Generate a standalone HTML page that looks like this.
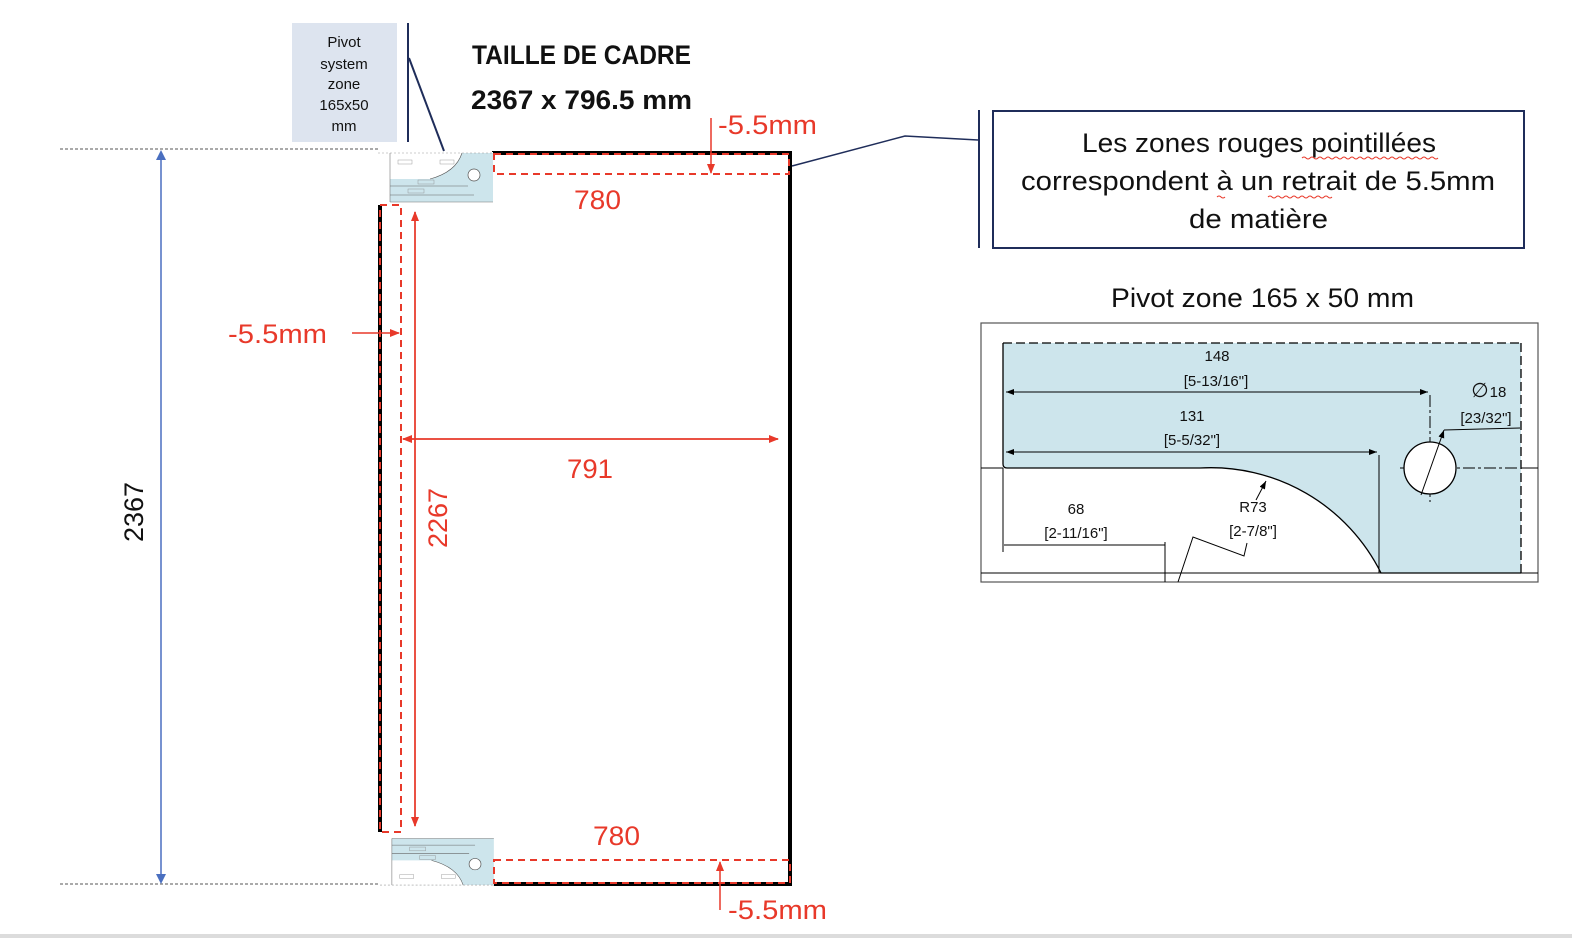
<!DOCTYPE html>
<html><head><meta charset="utf-8"><style>
html,body{margin:0;padding:0;background:#fff;}
svg{display:block;}
text{font-family:"Liberation Sans",sans-serif;}
</style></head><body>
<svg width="1572" height="938" viewBox="0 0 1572 938" xmlns="http://www.w3.org/2000/svg">
<defs>
<marker id="ar" markerWidth="10" markerHeight="10" refX="9" refY="5" orient="auto" markerUnits="userSpaceOnUse"><path d="M0,1 L10,5 L0,9 z" fill="#e8392a"/></marker>
<marker id="ak" markerWidth="8" markerHeight="6" refX="8" refY="3" orient="auto" markerUnits="userSpaceOnUse"><path d="M0,0 L8,3 L0,6 z" fill="#000"/></marker>
<g id="piv">
<rect x="0" y="0" width="115" height="52" fill="#fff"/>
<rect x="12" y="1" width="103" height="49" fill="#cde5ec"/>
<path d="M12,1 H84 Q78,20 52,27 H12 Z" fill="#fff"/>
<path d="M84,1 Q78,20 52,27" fill="none" stroke="#555" stroke-width="0.6"/>
<path d="M0,1 H115" fill="none" stroke="#999" stroke-width="0.6" stroke-dasharray="2,2"/>
<line x1="12" y1="1" x2="12" y2="50" stroke="#777" stroke-width="0.6"/>
<line x1="12" y1="50" x2="115" y2="50" stroke="#777" stroke-width="0.6"/>
<circle cx="96" cy="23" r="6" fill="#fff" stroke="#555" stroke-width="0.7"/>
<line x1="12" y1="34" x2="90" y2="34" stroke="#666" stroke-width="0.6"/>
<line x1="12" y1="43" x2="96" y2="43" stroke="#666" stroke-width="0.6"/>
<rect x="30" y="37" width="16" height="4" fill="none" stroke="#888" stroke-width="0.4"/>
<rect x="40" y="28" width="16" height="4" fill="none" stroke="#888" stroke-width="0.4"/>
<rect x="20" y="8" width="14" height="4" fill="none" stroke="#888" stroke-width="0.4"/>
<rect x="62" y="8" width="14" height="4" fill="none" stroke="#888" stroke-width="0.4"/>
</g>
</defs>
<rect x="0" y="934" width="1572" height="4" fill="#dcdcdc"/>

<!-- pivot label box -->
<rect x="292" y="23" width="105" height="119" fill="#dde4ef"/>
<g font-size="15" text-anchor="middle" fill="#111">
<text x="344" y="47">Pivot</text><text x="344" y="69">system</text><text x="344" y="89">zone</text><text x="344" y="110">165x50</text><text x="344" y="131">mm</text>
</g>
<line x1="408" y1="23" x2="408" y2="142" stroke="#1f2d5a" stroke-width="2"/>
<line x1="409" y1="58" x2="444" y2="151" stroke="#1f2d5a" stroke-width="2"/>
<text x="472" y="64" font-size="27" font-weight="bold" fill="#111" textLength="219" lengthAdjust="spacingAndGlyphs">TAILLE DE CADRE</text>
<text x="471" y="109" font-size="27" font-weight="bold" fill="#111" textLength="221" lengthAdjust="spacingAndGlyphs">2367 x 796.5 mm</text>

<!-- dotted extension lines -->
<line x1="60" y1="149" x2="378" y2="149" stroke="#555" stroke-width="1" stroke-dasharray="3,2"/>
<line x1="60" y1="884" x2="630" y2="884" stroke="#555" stroke-width="1" stroke-dasharray="3,2"/>
<line x1="161" y1="155" x2="161" y2="880" stroke="#4a6fc0" stroke-width="1.5"/>
<path d="M156,160 L161,150 L166,160z" fill="#4a6fc0"/>
<path d="M156,874 L161,884 L166,874z" fill="#4a6fc0"/>
<text transform="translate(143,512) rotate(-90)" font-size="27" text-anchor="middle" fill="#111">2367</text>

<!-- frame -->
<g stroke="#000" stroke-width="4" fill="none">
<path d="M492,153 H790 V884 H492"/>
<line x1="380" y1="205" x2="380" y2="832"/>
</g>
<use href="#piv" x="378" y="152"/>
<g transform="translate(380,886) scale(1,-1)"><use href="#piv" transform="scale(0.99,0.95)"/></g>

<!-- red dashed zones -->
<g stroke="#e8392a" stroke-width="2" fill="none" stroke-dasharray="7,5">
<rect x="494" y="154" width="295" height="20"/>
<rect x="380" y="205" width="21" height="627"/>
<rect x="494" y="860" width="296" height="23"/>
</g>

<!-- red dimension arrows -->
<g stroke="#e8392a" stroke-width="1.5">
<line x1="403" y1="439" x2="778" y2="439" marker-end="url(#ar)"/>
<line x1="778" y1="439" x2="403" y2="439" marker-end="url(#ar)"/>
<line x1="415" y1="212" x2="415" y2="826" marker-end="url(#ar)"/>
<line x1="415" y1="826" x2="415" y2="212" marker-end="url(#ar)"/>
<line x1="352" y1="333" x2="399" y2="333" marker-end="url(#ar)"/>
<line x1="711" y1="118" x2="711" y2="173" marker-end="url(#ar)"/>
<line x1="720" y1="910" x2="720" y2="862" marker-end="url(#ar)"/>
</g>
<g fill="#e8392a" font-size="27">
<text x="574" y="209" textLength="47" lengthAdjust="spacingAndGlyphs">780</text>
<text x="593" y="845" textLength="47" lengthAdjust="spacingAndGlyphs">780</text>
<text x="567" y="478" textLength="46" lengthAdjust="spacingAndGlyphs">791</text>
<text transform="translate(447,518) rotate(-90)" text-anchor="middle">2267</text>
<text x="228" y="343" textLength="99" lengthAdjust="spacingAndGlyphs">-5.5mm</text>
<text x="718" y="134" textLength="99" lengthAdjust="spacingAndGlyphs">-5.5mm</text>
<text x="728" y="919" textLength="99" lengthAdjust="spacingAndGlyphs">-5.5mm</text>
</g>

<!-- callout -->
<polyline points="792,166 905,136 978,140" fill="none" stroke="#1f2d5a" stroke-width="1.5"/>
<line x1="979" y1="110" x2="979" y2="248" stroke="#1f2d5a" stroke-width="2"/>
<rect x="993" y="111" width="531" height="137" fill="#fff" stroke="#1f2d5a" stroke-width="2"/>
<g font-size="27" fill="#111">
<text x="1082" y="152" textLength="354" lengthAdjust="spacingAndGlyphs">Les zones rouges pointillées</text>
<text x="1021" y="190" textLength="474" lengthAdjust="spacingAndGlyphs">correspondent à un retrait de 5.5mm</text>
<text x="1189" y="228" textLength="139" lengthAdjust="spacingAndGlyphs">de matière</text>
<text x="1111" y="307" textLength="303" lengthAdjust="spacingAndGlyphs">Pivot zone 165 x 50 mm</text>
</g>
<g stroke="#e8392a" stroke-width="1" fill="none">
<path d="M1302,158 q2,-2 4,0 t4,0 t4,0 t4,0 t4,0 t4,0 t4,0 t4,0 t4,0 t4,0 t4,0 t4,0 t4,0 t4,0 t4,0 t4,0 t4,0 t4,0 t4,0 t4,0 t4,0 t4,0 t4,0 t4,0 t4,0 t4,0 t4,0 t4,0 t4,0 t4,0 t4,0 t4,0 t4,0 t4,0"/>
<path d="M1217,197 q2,-2 4,0 t4,0 M1268,197 q2,-2 4,0 t4,0 t4,0 t4,0 t4,0 t4,0 t4,0 t4,0 t4,0 t4,0 t4,0 t4,0 t4,0 t4,0 t4,0 t4,0"/>
</g>

<!-- pivot detail -->
<rect x="981" y="323" width="557" height="259" fill="#fff" stroke="#555" stroke-width="1.2"/>
<path d="M1003,343 H1521 V573 H1381 A190,190 0 0 0 1200,468 H1007 Q1003,468 1003,464 Z" fill="#cde5ec"/>
<path d="M1003,343 V464 Q1003,468 1007,468 H1200 A190,190 0 0 1 1381,573 H1521" fill="none" stroke="#000" stroke-width="1.3"/>
<line x1="1003" y1="343" x2="1521" y2="343" stroke="#000" stroke-width="1.3" stroke-dasharray="9,4"/>
<line x1="1521" y1="343" x2="1521" y2="573" stroke="#000" stroke-width="1.3" stroke-dasharray="9,4"/>
<line x1="981" y1="468" x2="1003" y2="468" stroke="#000"/>
<line x1="1521" y1="468" x2="1538" y2="468" stroke="#000"/>
<line x1="981" y1="573" x2="1538" y2="573" stroke="#000"/>
<line x1="1003" y1="468" x2="1003" y2="552" stroke="#000"/>
<line x1="1379" y1="455" x2="1379" y2="573" stroke="#000"/>
<line x1="1430" y1="395" x2="1430" y2="502" stroke="#000" stroke-dasharray="12,3,3,3"/>
<line x1="1400" y1="468" x2="1520" y2="468" stroke="#000" stroke-dasharray="12,3,3,3"/>
<circle cx="1430" cy="468" r="26" fill="#fff" stroke="#000" stroke-width="1.3"/>
<line x1="1421" y1="495" x2="1444" y2="430" stroke="#000" marker-end="url(#ak)"/>
<line x1="1444" y1="430" x2="1520" y2="428" stroke="#000"/>
<line x1="1006" y1="392" x2="1428" y2="392" stroke="#000" marker-end="url(#ak)"/>
<line x1="1428" y1="392" x2="1006" y2="392" stroke="#000" marker-end="url(#ak)"/>
<line x1="1006" y1="452" x2="1377" y2="452" stroke="#000" marker-end="url(#ak)"/>
<line x1="1377" y1="452" x2="1006" y2="452" stroke="#000" marker-end="url(#ak)"/>
<line x1="1004" y1="545" x2="1165" y2="545" stroke="#000"/>
<line x1="1165" y1="542" x2="1165" y2="582" stroke="#000"/>
<polyline points="1178,582 1193,537 1244,556 1247,543" fill="none" stroke="#000"/>
<line x1="1256" y1="500" x2="1266" y2="481" stroke="#000" marker-end="url(#ak)"/>
<g font-size="15" fill="#111" text-anchor="middle">
<text x="1217" y="361">148</text><text x="1216" y="386">[5-13/16"]</text>
<text x="1192" y="421">131</text><text x="1192" y="445">[5-5/32"]</text>
<text x="1076" y="514">68</text><text x="1076" y="538">[2-11/16"]</text>
<text x="1253" y="512">R73</text><text x="1253" y="536">[2-7/8"]</text>
<text x="1498" y="397">18</text><text x="1486" y="423">[23/32"]</text>
<text x="1480" y="397" font-size="20">∅</text>
</g>
</svg>
</body></html>
